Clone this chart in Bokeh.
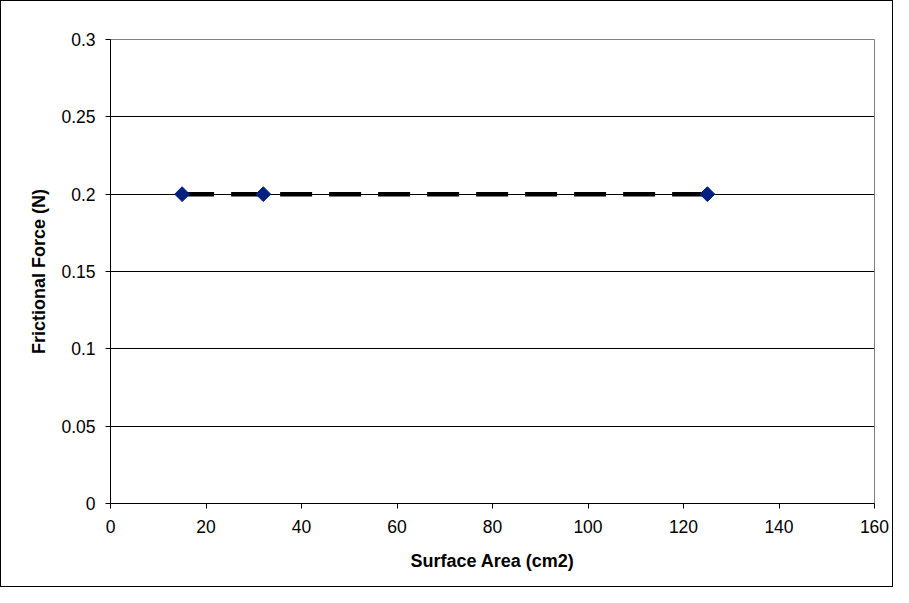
from bokeh.plotting import figure
from bokeh.embed import file_html
from bokeh.resources import INLINE
from bokeh.models import FixedTicker, Range1d, ColumnDataSource

surface_area = [15, 32, 125]
frictional_force = [0.2, 0.2, 0.2]
x_ticks = [0, 20, 40, 60, 80, 100, 120, 140, 160]
y_ticks = [0, 0.05, 0.1, 0.15, 0.2, 0.25, 0.3]
y_tick_labels = ["0", "0.05", "0.1", "0.15", "0.2", "0.25", "0.3"]

src = ColumnDataSource(dict(x=surface_area, y=frictional_force))

p = figure(width=893, height=587, output_backend="svg", toolbar_location=None,
           x_range=Range1d(0, 160), y_range=Range1d(0, 0.3),
           min_border_left=109, min_border_right=20, min_border_top=38, min_border_bottom=85)
p.styles = {"border": "1px solid black", "box-sizing": "border-box"}

p.outline_line_color = "#808080"
p.outline_line_width = 1
p.xgrid.visible = False
p.ygrid.ticker = FixedTicker(ticks=y_ticks)
p.ygrid.grid_line_color = "black"
p.ygrid.grid_line_alpha = 1
p.ygrid.grid_line_width = 1

for ax in (p.xaxis[0], p.yaxis[0]):
    ax.axis_line_color = "black"
    ax.major_tick_line_color = "black"
    ax.major_tick_in = 0
    ax.major_tick_out = 5
    ax.minor_tick_line_color = None
    ax.major_label_text_font = "Liberation Sans"
    ax.major_label_text_font_size = "17.5px"
    ax.major_label_text_color = "black"
    ax.axis_label_text_font = "Liberation Sans"
    ax.axis_label_text_font_size = "18px"
    ax.axis_label_text_font_style = "bold"
    ax.axis_label_text_color = "black"

p.xaxis.ticker = FixedTicker(ticks=x_ticks)
p.yaxis.ticker = FixedTicker(ticks=y_ticks)
p.yaxis.major_label_overrides = dict(zip(y_ticks, y_tick_labels))
p.xaxis.axis_label = "Surface Area (cm2)"
p.yaxis.axis_label = "Frictional Force (N)"
p.xaxis.major_label_standoff = 11
p.yaxis.major_label_standoff = 10
p.xaxis.axis_label_standoff = 15
p.yaxis.axis_label_standoff = 9

p.line("x", "y", source=src, line_color="black", line_width=4.5, line_dash="32 17")
p.scatter("x", "y", source=src, marker="square", angle=0.785398, size=10.5,
          fill_color="#002080", line_color="#002080")

open("out.html", "w").write(file_html(p, INLINE))
